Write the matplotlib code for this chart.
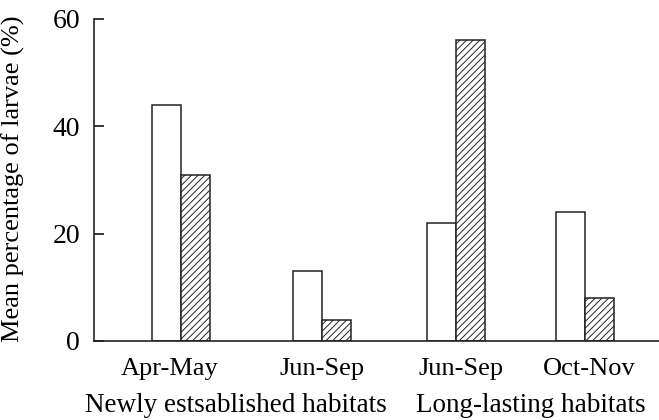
import numpy as np
import matplotlib
matplotlib.use("Agg")
import matplotlib.pyplot as plt
import matplotlib.transforms as mtransforms

periods = ["Apr-May", "Jun-Sep", "Jun-Sep", "Oct-Nov"]
groups = ["Newly estsablished habitats", "Long-lasting habitats"]
open_vals = [44, 13, 22, 24]
hatched_vals = [31, 4, 56, 8]

plt.rcParams['font.family'] = ['Liberation Serif', 'DejaVu Serif']
plt.rcParams['hatch.linewidth'] = 0.7
plt.rcParams['hatch.color'] = '#222222'

# group centres (slightly uneven in the original)
xpos = np.array([0, 1.046, 2.044, 3.0])
w = 0.215

fig = plt.figure(figsize=(6.59, 4.2), dpi=100)
ax = fig.add_axes([94/659, 1-341/420, 1-94/659, 322/420])

ax.bar(xpos - w/2, open_vals, w, color='white', edgecolor='#222222', linewidth=1.1)
ax.bar(xpos + w/2, hatched_vals, w, color='white', edgecolor='#222222',
       linewidth=1.1, hatch='/////')

ax.set_xlim(-0.643, 3.549)
ax.set_ylim(0, 60)
ax.set_yticks([0, 20, 40, 60])
ax.tick_params(axis='y', direction='in', length=7, width=1.1, pad=10, labelsize=20)
ax.set_xticks([])
for s in ['top', 'right']:
    ax.spines[s].set_visible(False)
for s in ['left', 'bottom']:
    ax.spines[s].set_linewidth(1.2)
    ax.spines[s].set_color('#222222')

ax.set_ylabel("Mean percentage of larvae (%)", fontsize=19)
ax.yaxis.set_label_coords(-0.122, 0.505)

trans = mtransforms.blended_transform_factory(ax.transData, ax.transAxes)
tick_x = [xpos[0] - 0.08, xpos[1], xpos[2] + 0.04, xpos[3] + 0.03]
for x, lab in zip(tick_x, periods):
    ax.text(x, -0.106, lab, transform=trans, ha='center', va='baseline', fontsize=19)
for x, lab in zip([0.41, 2.60], groups):
    ax.text(x, -0.22, lab, transform=trans, ha='center', va='baseline', fontsize=19.5)

fig.savefig("out.png", dpi=100)
